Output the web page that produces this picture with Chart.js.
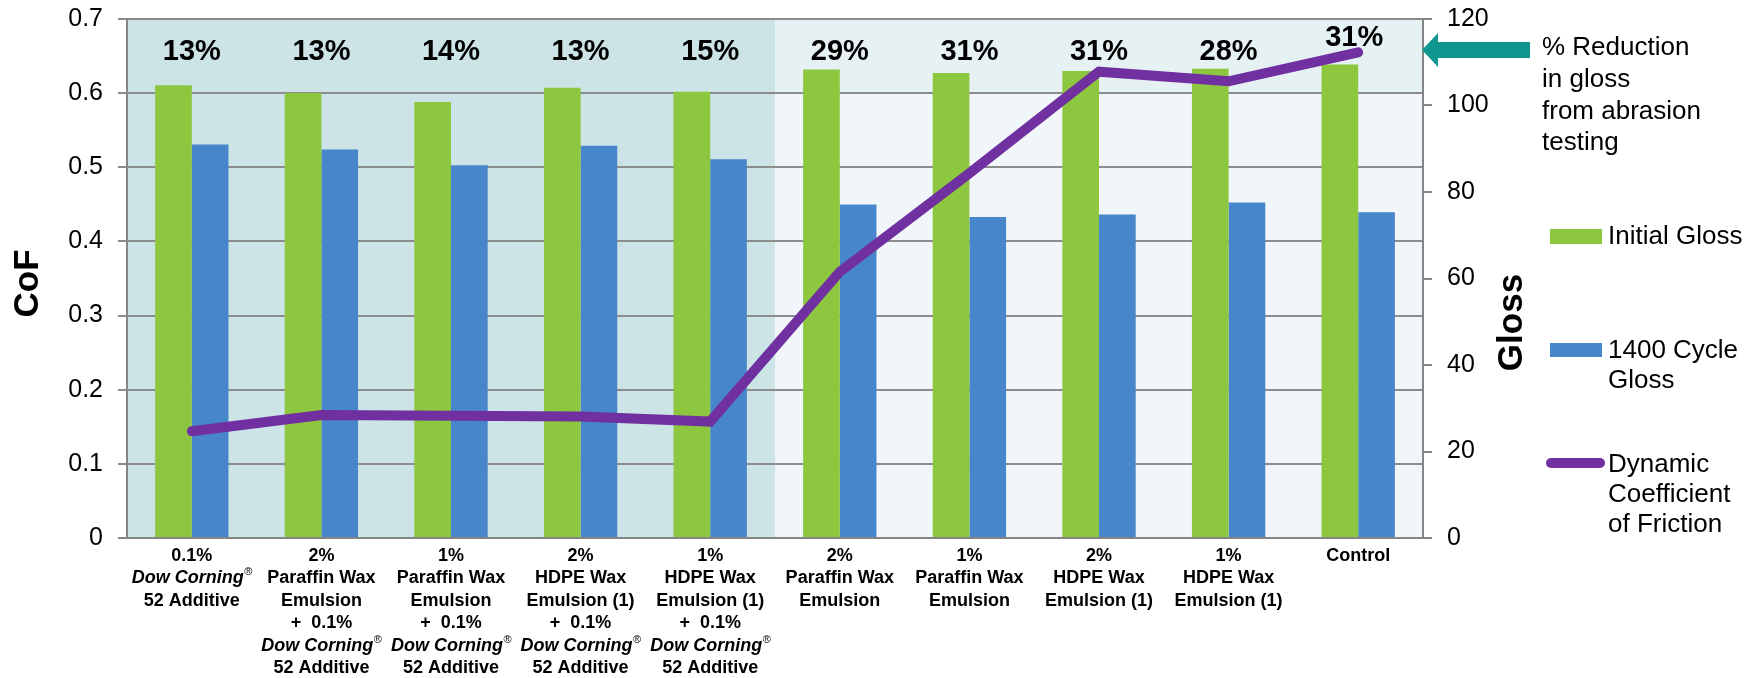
<!DOCTYPE html>
<html>
<head>
<meta charset="utf-8">
<script src="https://cdn.jsdelivr.net/npm/chart.js@4.4.1/dist/chart.umd.min.js"></script>
<style>
  html, body { margin: 0; padding: 0; background: #ffffff; }
  #wrap { width: 1762px; height: 678px; }
</style>
</head>
<body>
<div id="wrap"><canvas id="c" width="1762" height="678"></canvas></div>
<script>
// ---------- DATA ----------
const categories = [
  ["0.1%", "Dow Corning®", "52 Additive"],
  ["2%", "Paraffin Wax", "Emulsion", "+  0.1%", "Dow Corning®", "52 Additive"],
  ["1%", "Paraffin Wax", "Emulsion", "+  0.1%", "Dow Corning®", "52 Additive"],
  ["2%", "HDPE Wax", "Emulsion (1)", "+  0.1%", "Dow Corning®", "52 Additive"],
  ["1%", "HDPE Wax", "Emulsion (1)", "+  0.1%", "Dow Corning®", "52 Additive"],
  ["2%", "Paraffin Wax", "Emulsion"],
  ["1%", "Paraffin Wax", "Emulsion"],
  ["2%", "HDPE Wax", "Emulsion (1)"],
  ["1%", "HDPE Wax", "Emulsion (1)"],
  ["Control"]
];
const initialGloss = [104.7, 102.9, 100.8, 104.1, 103.2, 108.3, 107.5, 108.0, 108.5, 109.5];
const cycleGloss   = [91.0, 89.8, 86.2, 90.7, 87.6, 77.1, 74.2, 74.8, 77.6, 75.3];
const dynamicCoF   = [0.144, 0.166, 0.165, 0.164, 0.157, 0.359, 0.492, 0.629, 0.616, 0.655];
const reductionLabels = ["13%", "13%", "14%", "13%", "15%", "29%", "31%", "31%", "28%", "31%"];
const seriesNames = ["Initial Gloss", "1400 Cycle Gloss", "Dynamic Coefficient of Friction"];
const cofTicks = { min: 0, max: 0.7, step: 0.1 };
const glossTicks = { min: 0, max: 120, step: 20 };
const annotationLines = ["% Reduction", "in gloss", "from abrasion", "testing"];

// ---------- STYLE ----------
const FONT = "'Liberation Sans', Arial, Helvetica, sans-serif";
const GREEN = "#8DC63F";
const BLUE = "#4886CC";
const PURPLE = "#7030A0";
const TEAL = "#0F968E";
const GRID = "#8C8C8C";
const AXIS = "#858585";

const decorPlugin = {
  id: "decor",
  beforeDraw(chart) {
    const { ctx, chartArea: ca, scales } = chart;
    const x = scales.x, y = scales.y;
    const split = (x.getPixelForValue(4) + x.getPixelForValue(5)) / 2;
    const band = y.getPixelForValue(0.6);
    ctx.save();
    ctx.fillStyle = "#CCE4E6";
    ctx.fillRect(ca.left, ca.top, split - ca.left, ca.bottom - ca.top);
    ctx.fillStyle = "#F0F6F9";
    ctx.fillRect(split, ca.top, ca.right - split, ca.bottom - ca.top);
    ctx.fillStyle = "#E6F1F3";
    ctx.fillRect(split, ca.top, ca.right - split, band - ca.top);
    ctx.restore();
  },
  afterDraw(chart) {
    const { ctx, chartArea: ca, scales } = chart;
    const x = scales.x, y = scales.y;
    ctx.save();
    // x axis line
    ctx.strokeStyle = AXIS;
    ctx.lineWidth = 2;
    ctx.beginPath();
    ctx.moveTo(ca.left - 9, ca.bottom);
    ctx.lineTo(ca.right + 9, ca.bottom);
    ctx.stroke();

    // x labels
    ctx.fillStyle = "#000";
    ctx.textBaseline = "middle";
    const labels = x.getLabels();
    labels.forEach((lines, i) => {
      const cx = x.getPixelForValue(i);
      lines.forEach((ln, j) => {
        const cy = ca.bottom + 18 + j * 22.4;
        if (ln.endsWith("®")) {
          const main = ln.slice(0, -1);
          ctx.font = "italic bold 18px " + FONT;
          const w1 = ctx.measureText(main).width;
          ctx.font = "11px " + FONT;
          const w2 = ctx.measureText("®").width;
          const start = cx - (w1 + w2) / 2;
          ctx.textAlign = "left";
          ctx.font = "italic bold 18px " + FONT;
          ctx.fillText(main, start, cy);
          ctx.font = "11px " + FONT;
          ctx.fillText("®", start + w1 + 0.5, cy - 6);
        } else {
          ctx.textAlign = "center";
          ctx.font = "bold 18px " + FONT;
          ctx.fillText(ln, cx, cy);
        }
      });
    });

    // percentage labels
    ctx.font = "bold 29px " + FONT;
    ctx.textAlign = "center";
    const last = reductionLabels.length - 1;
    reductionLabels.forEach((t, i) => {
      const cx = x.getPixelForValue(i) - (i === last ? 4 : 0);
      const cy = y.getPixelForValue(i === last ? 0.675 : 0.655);
      ctx.fillText(t, cx, cy);
    });

    // axis titles
    ctx.font = "bold 35px " + FONT;
    ctx.textAlign = "center";
    ctx.save();
    ctx.translate(28, (ca.top + ca.bottom) / 2 + 5);
    ctx.rotate(-Math.PI / 2);
    ctx.fillText("CoF", 0, 0);
    ctx.restore();
    ctx.save();
    ctx.translate(ca.right + 89, (ca.top + ca.bottom) / 2 + 44);
    ctx.rotate(-Math.PI / 2);
    ctx.fillText("Gloss", 0, 0);
    ctx.restore();

    // arrow
    ctx.fillStyle = TEAL;
    ctx.beginPath();
    ctx.moveTo(ca.right - 1, 50);
    ctx.lineTo(ca.right + 15, 33);
    ctx.lineTo(ca.right + 15, 42);
    ctx.lineTo(ca.right + 107, 42);
    ctx.lineTo(ca.right + 107, 58);
    ctx.lineTo(ca.right + 15, 58);
    ctx.lineTo(ca.right + 15, 67);
    ctx.closePath();
    ctx.fill();

    // annotation text
    ctx.fillStyle = "#000";
    ctx.font = "26px " + FONT;
    ctx.textAlign = "left";
    annotationLines.forEach((t, j) => ctx.fillText(t, ca.right + 119, 48 + j * 31.7));

    // legend
    const lx = ca.right + 127, tx = ca.right + 185;
    ctx.fillStyle = GREEN;
    ctx.fillRect(lx, 229, 52, 15);
    ctx.fillStyle = BLUE;
    ctx.fillRect(lx, 343, 52, 14);
    ctx.strokeStyle = PURPLE;
    ctx.lineWidth = 10;
    ctx.lineCap = "round";
    ctx.beginPath();
    ctx.moveTo(lx + 1, 463);
    ctx.lineTo(lx + 50, 463);
    ctx.stroke();
    ctx.fillStyle = "#000";
    ctx.font = "26px " + FONT;
    ctx.fillText("Initial Gloss", tx, 237);
    ["1400 Cycle", "Gloss"].forEach((t, j) => ctx.fillText(t, tx, 351 + j * 29.5));
    ["Dynamic", "Coefficient", "of Friction"].forEach((t, j) => ctx.fillText(t, tx, 465 + j * 30));
    ctx.restore();
  }
};

const chart = new Chart(document.getElementById("c"), {
  data: {
    labels: categories,
    datasets: [
      {
        type: "line", label: seriesNames[2], data: dynamicCoF, yAxisID: "y",
        borderColor: PURPLE, borderWidth: 10, borderCapStyle: "round", borderJoinStyle: "miter",
        pointRadius: 0, tension: 0, fill: false, order: 0, clip: false
      },
      {
        type: "bar", label: seriesNames[0], data: initialGloss, yAxisID: "y1",
        backgroundColor: GREEN, borderWidth: 0, order: 1,
        categoryPercentage: 0.566, barPercentage: 1.0
      },
      {
        type: "bar", label: seriesNames[1], data: cycleGloss, yAxisID: "y1",
        backgroundColor: BLUE, borderWidth: 0, order: 2,
        categoryPercentage: 0.566, barPercentage: 1.0
      }
    ]
  },
  options: {
    responsive: false,
    animation: false,
    devicePixelRatio: 1,
    layout: { padding: { top: 19, bottom: 0, left: 0, right: 0 } },
    plugins: { legend: { display: false }, tooltip: { enabled: false } },
    scales: {
      x: {
        type: "category",
        offset: true,
        grid: { display: false },
        border: { display: false },
        ticks: { display: false },
        afterFit(s) { s.height = 140; }
      },
      y: {
        position: "left",
        min: cofTicks.min, max: cofTicks.max,
        ticks: {
          stepSize: cofTicks.step, color: "#000", padding: 15,
          font: { family: FONT, size: 25, lineHeight: 0.3 },
          callback: v => (Math.abs(v) < 1e-9 ? "0" : Number(v).toFixed(1))
        },
        grid: { color: GRID, lineWidth: 2, tickLength: 9, drawTicks: true },
        border: { display: true, color: AXIS, width: 2 },
        afterFit(s) { s.width = 127; }
      },
      y1: {
        position: "right",
        min: glossTicks.min, max: glossTicks.max,
        ticks: {
          stepSize: glossTicks.step, color: "#000", padding: 15,
          font: { family: FONT, size: 25, lineHeight: 0.3 }
        },
        grid: { drawOnChartArea: false, color: AXIS, lineWidth: 2, tickLength: 9, drawTicks: true },
        border: { display: true, color: AXIS, width: 2 },
        afterFit(s) { s.width = 339; }
      }
    }
  },
  plugins: [decorPlugin]
});
</script>
</body>
</html>
